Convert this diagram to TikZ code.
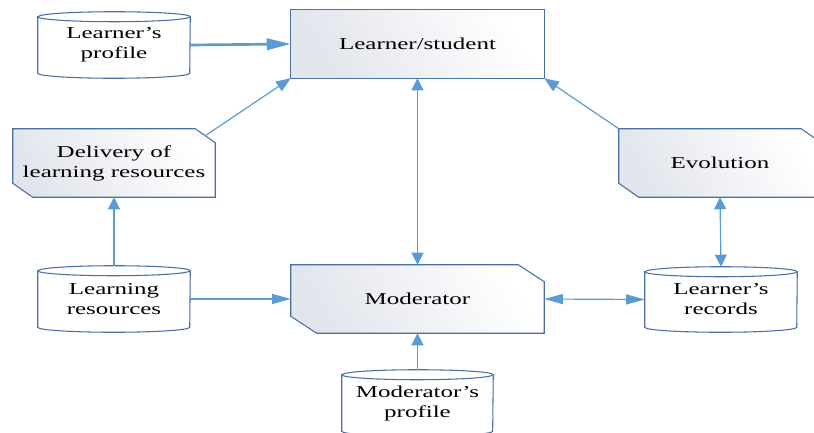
\documentclass[tikz,border=0pt]{standalone}
\usepackage{fontspec}
\setmainfont[FakeStretch=1.5]{Liberation Serif}
\usetikzlibrary{arrows.meta,calc,backgrounds}
\definecolor{edgeblue}{HTML}{4A6FA5}
\definecolor{arrowblue}{HTML}{5B9BD5}
\definecolor{shadegray}{HTML}{E2E5EC}
\begin{document}
\begin{tikzpicture}[x=0.75pt,y=-0.75pt,
  every node/.style={font=\fontsize{12.5}{15}\selectfont, align=center, inner sep=0pt},
  slot/.style={draw=none, minimum width=#1},
  outline/.style={draw=edgeblue, line width=0.8pt},
  boxfill/.style={left color=shadegray, right color=white, shading angle=120},
  wire/.style={draw=arrowblue, line width=0.9pt},
  htip/.tip={Triangle[length=14pt,width=7.5pt]},
  vtip/.tip={Triangle[length=9pt,width=9pt]},
  dtip/.tip={Triangle[length=11pt,width=8.5pt]},
  hlink/.style={wire, -htip},
  hboth/.style={wire, htip-htip},
  vlink/.style={wire, -vtip},
  vboth/.style={wire, vtip-vtip},
  dlink/.style={wire, -dtip},
  boldlink/.style={draw=arrowblue, line width=2pt, -{Triangle[length=18pt,width=8.5pt]}}
]
\useasboundingbox (0,0) rectangle (814,432);

% ---- nodes (text and connection anchors) ----
\node[slot=114pt,    minimum height=49.5pt]  (lp)  at (114,45)    {Learner's\\profile};
\node[slot=189.75pt, minimum height=51pt]    (ls)  at (417.5,44)  {Learner/student};
\node[slot=151.5pt,  minimum height=51pt]    (del) at (114,163)   {Delivery of\\learning resources};
\node[slot=151.5pt,  minimum height=51pt]    (evo) at (720,163)   {Evolution};
\node[slot=189.75pt, minimum height=51pt]    (mod) at (417.5,299) {Moderator};
\node[slot=114pt,    minimum height=49.5pt]  (lr)  at (114,299)   {Learning\\resources};
\node[slot=114pt,    minimum height=48.75pt] (rec) at (721,299.5) {Learner's\\records};
\node[slot=113.25pt, minimum height=49.5pt]  (mp)  at (417.5,403) {Moderator's\\profile};

% ---- shapes behind the text ----
\begin{scope}[on background layer]
  % plain process box
  \path[outline, boxfill] (ls.north west) rectangle (ls.south east);
  \draw[outline] (ls.north west) rectangle (ls.south east);
  % boxes with a cut top-right and bottom-left corner
  \foreach \n/\cx/\cy in {del/20/14, evo/20/14, mod/26/17}{
    \path[outline, boxfill]
      (\n.north west) -- ($(\n.north east)+(-\cx,0)$) -- ($(\n.north east)+(0,\cy)$)
      -- (\n.south east) -- ($(\n.south west)+(\cx,0)$) -- ($(\n.south west)+(0,-\cy)$) -- cycle;
  }
  % data stores (cylinders)
  \foreach \n/\rx in {lp/57pt, lr/57pt, rec/57pt, mp/56.6pt}{
    \draw[outline, fill=white]
      ($(\n.north west)+(0,5)$) -- ($(\n.south west)+(0,-5)$)
      arc[start angle=180, end angle=360, x radius=\rx, y radius=3.75pt]
      -- ($(\n.north east)+(0,5)$)
      arc[start angle=0, end angle=180, x radius=\rx, y radius=3.75pt] -- cycle;
    \draw[outline] ($(\n.north west)+(0,5)$)
      arc[start angle=180, end angle=360, x radius=\rx, y radius=3.75pt];
  }
\end{scope}

% point on the cut corner of the delivery box
\coordinate (delcut) at ($(del.north east)+(-10,7)$);

% ---- connectors ----
\draw[boldlink] (lp.east) -- (ls.west);
\draw[dlink] (delcut) -- (ls.south west);
\draw[dlink] (evo.north west) -- (ls.south east);
\draw[vboth] (ls.south) -- (mod.north);
\draw[vlink] (mp.north) -- (mod.south);
\draw[vlink] (lr.north) -- (del.south);
\draw[hlink] (lr.east) -- (mod.west);
\draw[hboth] (mod.east) -- (rec.west);
\draw[vboth] (evo.south) -- (rec.north);
\end{tikzpicture}
\end{document}
